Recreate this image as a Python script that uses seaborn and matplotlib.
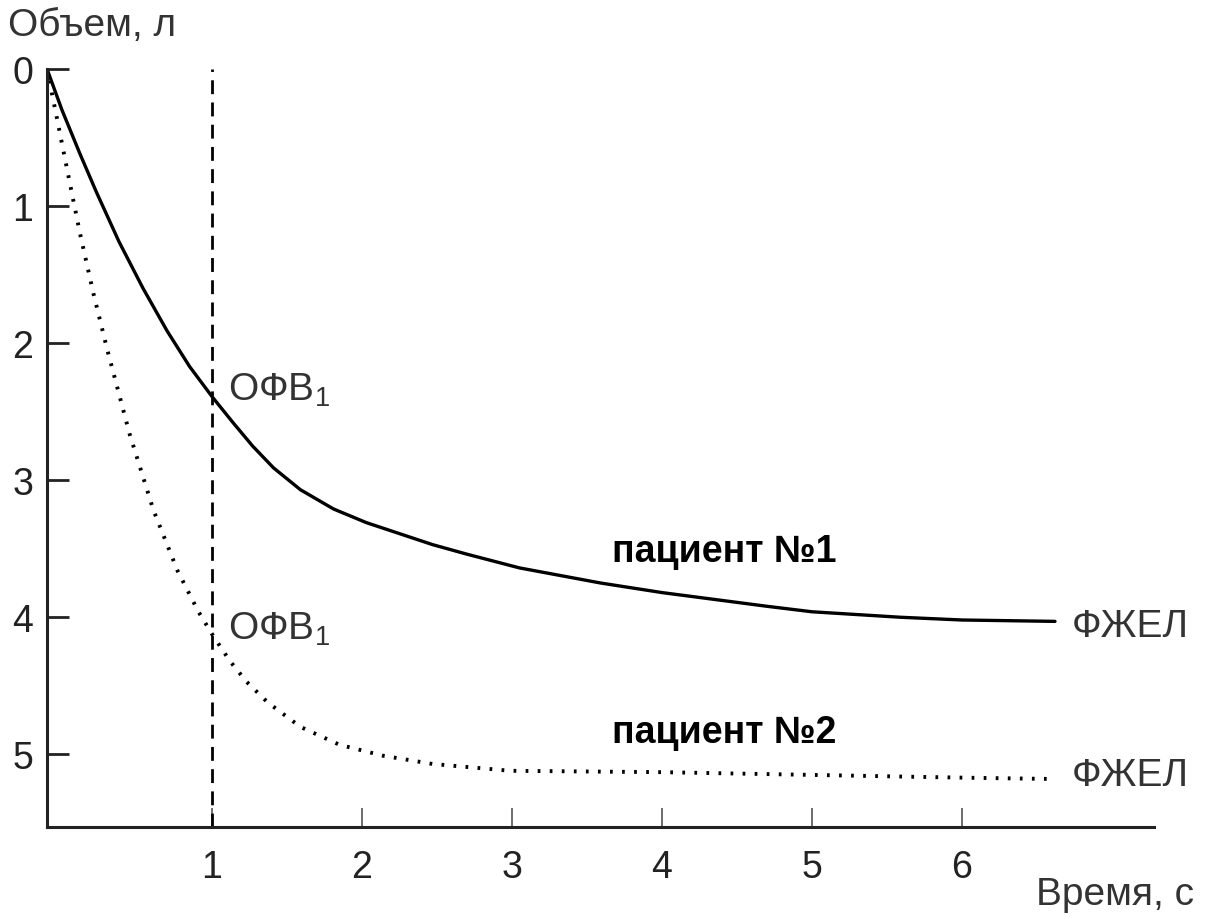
import pandas as pd
import matplotlib
matplotlib.use("Agg")
import matplotlib.pyplot as plt
import seaborn as sns

# --- Данные ---
t_p1 = [-0.1, 0.0, 0.12, 0.23, 0.38, 0.54, 0.7, 0.85, 1.0, 1.14, 1.27, 1.41, 1.59,
        1.81, 2.03, 2.25, 2.47, 2.7, 3.05, 3.59, 4.0, 4.7, 5.0, 5.59, 6.0, 6.62]
v_p1 = [0.0, 0.3, 0.62, 0.9, 1.26, 1.6, 1.91, 2.17, 2.39, 2.58, 2.75, 2.91, 3.07,
        3.21, 3.31, 3.39, 3.47, 3.54, 3.64, 3.75, 3.82, 3.92, 3.96, 4.0, 4.02, 4.03]

t_p2 = [-0.1, -0.03, 0.05, 0.12, 0.21, 0.3, 0.45, 0.61, 0.77, 0.91, 1.01, 1.12, 1.23,
        1.37, 1.59, 1.85, 2.14, 2.47, 2.99, 4.0, 5.0, 6.0, 6.62]
v_p2 = [0.0, 0.38, 0.82, 1.2, 1.64, 2.04, 2.66, 3.22, 3.66, 3.96, 4.14, 4.32, 4.47,
        4.62, 4.8, 4.93, 5.01, 5.07, 5.12, 5.13, 5.15, 5.17, 5.18]

patients = ["пациент №1", "пациент №2"]
x_ticks = [1, 2, 3, 4, 5, 6]
y_ticks = [0, 1, 2, 3, 4, 5]
fev1_time = 1.0

df = pd.concat([
    pd.DataFrame({"t": t_p1, "v": v_p1, "patient": patients[0]}),
    pd.DataFrame({"t": t_p2, "v": v_p2, "patient": patients[1]}),
])

sns.set_style("white")
plt.rcParams["font.family"] = ["Liberation Sans", "DejaVu Sans"]
plt.rcParams["mathtext.fontset"] = "custom"
plt.rcParams["mathtext.rm"] = "Liberation Sans"

fig = plt.figure(figsize=(12.08, 9.2), dpi=100)
ax = fig.add_axes([0.0389, 0.1, 0.9164, 0.824])

sns.lineplot(data=df[df["patient"] == patients[0]], x="t", y="v", color="black",
             linewidth=2.4, sort=False, legend=False, ax=ax)
sns.lineplot(data=df[df["patient"] == patients[1]], x="t", y="v", color="black",
             linewidth=2.8, dashes=(0.7, 2.4), sort=False, legend=False, ax=ax)

# линия ОФВ1 на 1 секунде
ax.axvline(fev1_time, ymin=0, ymax=1, color="black", lw=2.0, dashes=(5, 3))

ax.set_xlim(-0.1, 7.28)
ax.set_ylim(5.53, 0)
ax.set_xticks(x_ticks)
ax.set_yticks(y_ticks)
ax.set_xlabel("")
ax.set_ylabel("")

for s in ["top", "right"]:
    ax.spines[s].set_visible(False)
for s in ["left", "bottom"]:
    ax.spines[s].set_linewidth(2.2)
    ax.spines[s].set_color("#222222")

ax.tick_params(axis="x", bottom=True, direction="in", length=14, width=1.2, color="#555555",
               pad=16, labelsize=27, labelcolor="#222222")
ax.tick_params(axis="y", left=True, direction="in", length=16, width=2.0, color="#222222",
               pad=10, labelsize=27, labelcolor="#222222")

txt = dict(fontsize=28, color="#333333")
ax.text(1.11, 2.41, r"ОФВ$_\mathregular{1}$", va="baseline", **txt)
ax.text(1.11, 4.16, r"ОФВ$_\mathregular{1}$", va="baseline", **txt)
ax.text(6.73, 4.14, "ФЖЕЛ", va="baseline", **txt)
ax.text(6.73, 5.22, "ФЖЕЛ", va="baseline", **txt)
ax.text(3.67, 3.59, patients[0], va="baseline", fontsize=27, fontweight="bold", color="black")
ax.text(3.67, 4.91, patients[1], va="baseline", fontsize=27, fontweight="bold", color="black")

fig.text(8 / 1208, 1 - 36 / 920, "Объем, л", ha="left", va="baseline", **txt)
fig.text(1194 / 1208, 1 - 905 / 920, "Время, с", ha="right", va="baseline", **txt)

fig.savefig("out.png", dpi=100, facecolor="white")
